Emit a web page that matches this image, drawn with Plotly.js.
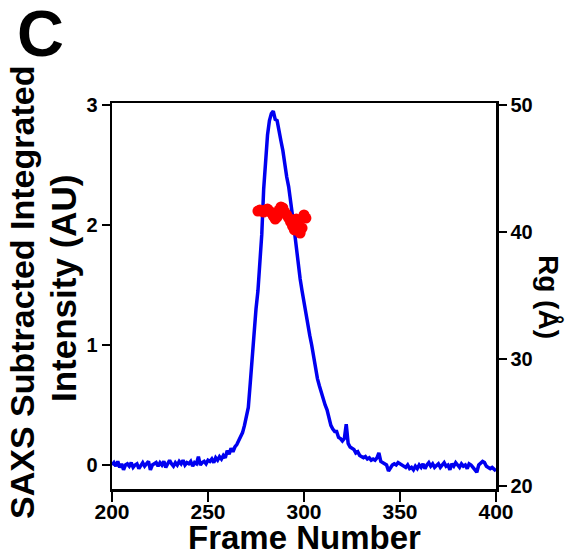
<!DOCTYPE html>
<html>
<head>
<meta charset="utf-8">
<script src="https://cdn.plot.ly/plotly-3.0.1.min.js"></script>
<style>html,body{margin:0;padding:0;background:#fff;}#chart{width:577px;height:556px;}</style>
</head>
<body>
<div id="chart"></div>
<script>
// Frame numbers 200..400 (one per frame)
const frameStart = 200;
const intensity = [
  0.00, 0.02, -0.01, 0.03, -0.02, 0.01, -0.04, 0.00, 0.01, -0.01,
  0.02, -0.02, 0.00, 0.01, -0.03, 0.00, 0.02, -0.01, 0.01, 0.03,
  -0.04, 0.00, 0.01, 0.02, -0.01, 0.02, 0.00, 0.03, -0.02, 0.01,
  0.04, 0.01, -0.01, 0.02, 0.00, 0.03, 0.01, 0.04, 0.00, 0.02,
  0.01, 0.03, -0.01, 0.02, 0.01, 0.07, 0.00, 0.02, 0.03, 0.01,
  0.04, 0.03, 0.05, 0.02, 0.06, 0.04, 0.07, 0.05, 0.08, 0.06,
  0.12, 0.09, 0.14, 0.11, 0.15, 0.17, 0.20, 0.24, 0.27, 0.33,
  0.40, 0.48, 0.68, 0.90, 1.08, 1.30, 1.45, 1.65, 1.92, 2.30,
  2.55, 2.75, 2.87, 2.93, 2.95, 2.88, 2.87, 2.80, 2.70, 2.62,
  2.50, 2.40, 2.32, 2.22, 2.08, 1.95, 1.80, 1.65, 1.55, 1.45,
  1.35, 1.25, 1.17, 1.08, 1.00, 0.90, 0.80, 0.72, 0.66, 0.60,
  0.55, 0.50, 0.46, 0.40, 0.33, 0.30, 0.28, 0.28, 0.23, 0.22,
  0.20, 0.22, 0.34, 0.18, 0.15, 0.14, 0.13, 0.10, 0.11, 0.08,
  0.07, 0.06, 0.07, 0.05, 0.06, 0.04, 0.05, 0.04, 0.06, 0.10,
  0.03, 0.02, 0.01, 0.00, -0.05, -0.02, 0.00, 0.01, 0.00, 0.02,
  0.01, 0.00, -0.01, -0.02, 0.00, -0.03, -0.02, -0.04, -0.01, -0.03,
  0.00, -0.02, 0.01, -0.03, 0.00, 0.02, -0.01, 0.01, -0.02, 0.00,
  0.01, -0.02, 0.00, 0.02, -0.01, 0.00, -0.04, 0.01, -0.01, 0.02,
  0.00, -0.02, 0.01, -0.01, 0.00, -0.03, 0.01, 0.00, -0.02, -0.04,
  -0.06, 0.00, 0.02, 0.03, 0.02, -0.01, -0.02, -0.03, -0.02, -0.04,
  -0.05
];
const frames = intensity.map((_, i) => frameStart + i);

const rgFrames = [276, 277, 278, 279, 280, 281, 282, 283, 284, 285, 286, 287, 288,
                  289, 290, 291, 292, 293, 294, 295, 296, 297, 298, 299, 300, 301];
const rgValues = [41.65, 41.73, 41.65, 41.57, 41.73, 41.81, 41.65, 41.50, 41.26, 41.02, 41.18, 41.73, 41.97,
                  41.89, 41.57, 41.34, 41.10, 40.79, 40.47, 40.16, 41.02, 40.63, 39.92, 40.31, 41.34, 41.10];

const xTicks = [200, 250, 300, 350, 400];
const yTicks = [0, 1, 2, 3];
const y2Ticks = [20, 30, 40, 50];

const F = 'Liberation Sans, Arial, sans-serif';
const tickFont = {family: F, size: 20, color: '#000', weight: 'bold'};
const b = s => '<b>' + s + '</b>';

const traces = [
  {x: frames, y: intensity, type: 'scatter', mode: 'lines',
   line: {color: '#0000f0', width: 3.5}, yaxis: 'y', hoverinfo: 'skip'},
  {x: rgFrames, y: rgValues, type: 'scatter', mode: 'markers',
   marker: {color: '#ff0000', size: 11}, yaxis: 'y2', hoverinfo: 'skip'}
];

const axisCommon = {showgrid: false, zeroline: false, showline: true, linecolor: '#000', linewidth: 2.5,
  ticks: 'outside', tickcolor: '#000', tickwidth: 2.5, tickfont: tickFont};

const layout = {
  width: 577, height: 556,
  margin: {l: 112, r: 81, t: 103, b: 67},
  paper_bgcolor: '#fff', plot_bgcolor: '#fff',
  showlegend: false,
  xaxis: Object.assign({}, axisCommon, {range: [200, 400], tickmode: 'array', tickvals: xTicks,
    ticktext: xTicks.map(v => b(v)), ticklen: 10, ticklabelstandoff: -8, mirror: true,
    tickfont: Object.assign({}, tickFont, {size: 21})}),
  yaxis: Object.assign({}, axisCommon, {range: [-0.2, 3.017], tickmode: 'array', tickvals: yTicks,
    ticktext: yTicks.map(v => b(v)), ticklen: 8}),
  yaxis2: Object.assign({}, axisCommon, {range: [19.76, 50.16], tickmode: 'array', tickvals: y2Ticks,
    ticktext: y2Ticks.map(v => b(v)), ticklen: 8, overlaying: 'y', side: 'right'}),
  annotations: [
    {text: b('C'), xref: 'paper', yref: 'paper', x: (40 - 112) / 384, y: (489 - 33) / 386,
     xanchor: 'center', yanchor: 'middle', showarrow: false,
     font: {family: F, size: 65, color: '#000', weight: 'bold'}},
    {text: b('SAXS Subtracted Integrated'), xref: 'paper', yref: 'paper', x: (22 - 112) / 384, y: (489 - 293) / 386,
     xanchor: 'center', yanchor: 'middle', textangle: -90, showarrow: false,
     font: {family: F, size: 34, color: '#000', weight: 'bold'}},
    {text: b('Intensity (AU)'), xref: 'paper', yref: 'paper', x: (63 - 112) / 384, y: (489 - 288) / 386,
     xanchor: 'center', yanchor: 'middle', textangle: -90, showarrow: false,
     font: {family: F, size: 35, color: '#000', weight: 'bold'}},
    {text: b('Frame Number'), xref: 'paper', yref: 'paper', x: (304 - 112) / 384, y: (489 - 537) / 386,
     xanchor: 'center', yanchor: 'middle', showarrow: false,
     font: {family: F, size: 33, color: '#000', weight: 'bold'}},
    {text: b('Rg (Å)'), xref: 'paper', yref: 'paper', x: (549 - 112) / 384, y: (489 - 297) / 386,
     xanchor: 'center', yanchor: 'middle', textangle: 90, showarrow: false,
     font: {family: F, size: 28, color: '#000', weight: 'bold'}}
  ]
};

Plotly.newPlot('chart', traces, layout, {staticPlot: true, displayModeBar: false});
</script>
</body>
</html>
